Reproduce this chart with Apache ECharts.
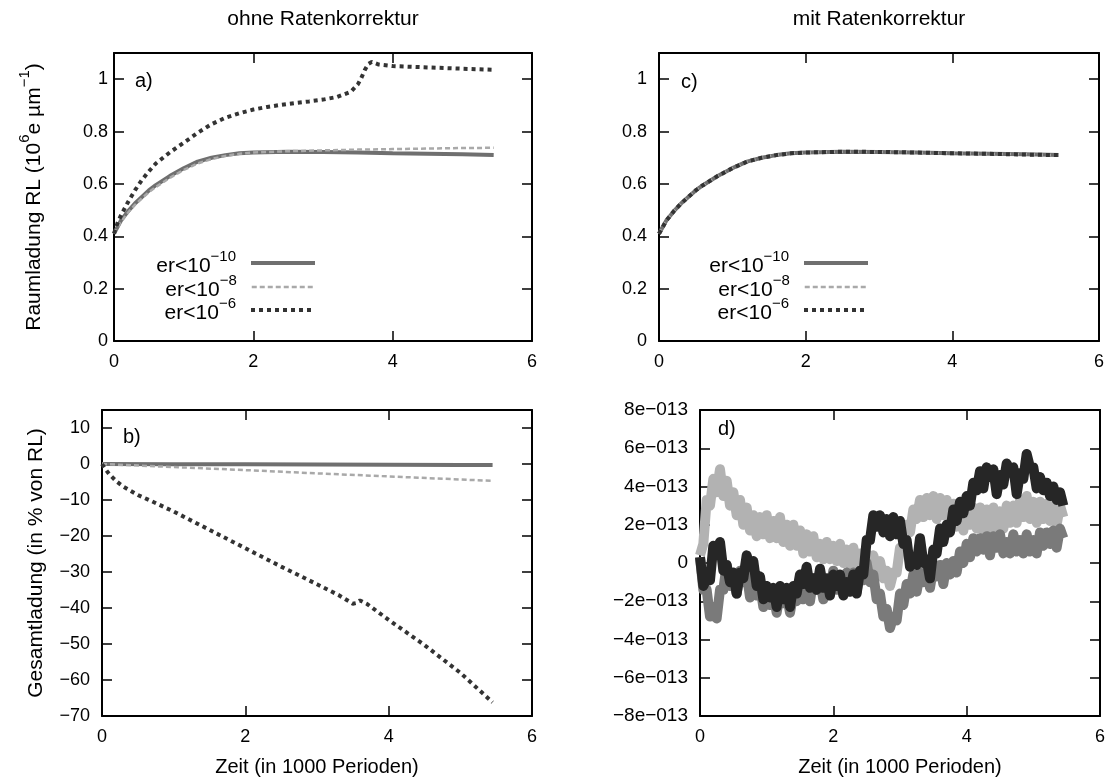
<!DOCTYPE html>
<html>
<head>
<meta charset="utf-8">
<title>Raumladung mit und ohne Ratenkorrektur</title>
<script src="https://cdn.jsdelivr.net/npm/echarts@6/dist/echarts.min.js"></script>
<style>
  html, body { margin: 0; padding: 0; background: #fff; }
  #chart { width: 1109px; height: 784px; }
</style>
</head>
<body>
<div id="chart"></div>
<script>
// ---- data ----
// a) Raumladung ohne Ratenkorrektur, 10^6 e/um
const aTime = [0, 0.1, 0.2, 0.3, 0.4, 0.5, 0.6, 0.8, 1.0, 1.2, 1.4, 1.6, 1.8, 2.0, 2.5, 3.0, 3.5, 4.0, 4.5, 5.0, 5.45];
const aRL10 = [0.41, 0.46, 0.495, 0.525, 0.55, 0.575, 0.595, 0.63, 0.66, 0.685, 0.70, 0.71, 0.717, 0.72, 0.723, 0.722, 0.72, 0.717, 0.715, 0.713, 0.71];
const aRL8 = [0.41, 0.455, 0.49, 0.52, 0.545, 0.568, 0.588, 0.623, 0.653, 0.678, 0.695, 0.707, 0.715, 0.72, 0.725, 0.728, 0.731, 0.733, 0.735, 0.737, 0.738];
const aTime6 = [0, 0.05, 0.1, 0.2, 0.3, 0.4, 0.5, 0.6, 0.8, 1.0, 1.2, 1.4, 1.6, 1.8, 2.0, 2.2, 2.4, 2.6, 2.8, 3.0, 3.2, 3.4, 3.5, 3.55, 3.6, 3.65, 3.7, 3.8, 4.0, 4.5, 5.0, 5.45];
const aRL6 = [0.41, 0.45, 0.48, 0.53, 0.575, 0.615, 0.648, 0.678, 0.72, 0.757, 0.795, 0.828, 0.853, 0.87, 0.884, 0.894, 0.902, 0.909, 0.915, 0.922, 0.932, 0.952, 0.98, 1.005, 1.035, 1.058, 1.066, 1.056, 1.05, 1.045, 1.04, 1.036];

// b) Gesamtladung in % von RL
const bTime = [0, 1, 2, 3, 4, 5, 5.45];
const bQ10 = [0, -0.05, -0.1, -0.15, -0.2, -0.25, -0.3];
const bQ8 = [0, -0.85, -1.7, -2.6, -3.45, -4.3, -4.7];
const bTime6 = [0, 0.05, 0.1, 0.2, 0.3, 0.5, 0.7, 1.0, 1.5, 2.0, 2.5, 3.0, 3.3, 3.5, 3.55, 3.6, 3.7, 4.0, 4.5, 5.0, 5.45];
const bQ6 = [0, -1.5, -2.8, -4.8, -6.3, -8.6, -10.4, -13.2, -18.3, -23.4, -28.5, -33.4, -36.4, -38.8, -38.6, -37.9, -38.9, -43.3, -50.3, -58.0, -66.2];

// c) Raumladung mit Ratenkorrektur
const cTime = [0, 0.1, 0.2, 0.3, 0.4, 0.5, 0.6, 0.8, 1.0, 1.2, 1.4, 1.6, 1.8, 2.0, 2.5, 3.0, 3.5, 4.0, 4.5, 5.0, 5.45];
const cRL10 = [0.41, 0.46, 0.495, 0.525, 0.55, 0.575, 0.595, 0.63, 0.66, 0.685, 0.70, 0.71, 0.717, 0.72, 0.723, 0.722, 0.72, 0.717, 0.715, 0.713, 0.71];
const cRL8 = [0.41, 0.46, 0.495, 0.525, 0.55, 0.575, 0.595, 0.63, 0.66, 0.685, 0.70, 0.71, 0.717, 0.72, 0.723, 0.722, 0.72, 0.717, 0.715, 0.713, 0.71];
const cRL6 = [0.41, 0.46, 0.495, 0.525, 0.55, 0.575, 0.595, 0.63, 0.66, 0.685, 0.70, 0.71, 0.717, 0.72, 0.723, 0.722, 0.72, 0.717, 0.715, 0.712, 0.71];

// d) Gesamtladung mit Ratenkorrektur, in units of 1e-13
const dTime = [
  0, 0.05, 0.1, 0.15, 0.2, 0.25, 0.3, 0.35, 0.4, 0.45,
  0.5, 0.55, 0.6, 0.65, 0.7, 0.75, 0.8, 0.85, 0.9, 0.95,
  1.0, 1.05, 1.1, 1.15, 1.2, 1.25, 1.3, 1.35, 1.4, 1.45,
  1.5, 1.55, 1.6, 1.65, 1.7, 1.75, 1.8, 1.85, 1.9, 1.95,
  2.0, 2.05, 2.1, 2.15, 2.2, 2.25, 2.3, 2.35, 2.4, 2.45,
  2.5, 2.55, 2.6, 2.65, 2.7, 2.75, 2.8, 2.85, 2.9, 2.95,
  3.0, 3.05, 3.1, 3.15, 3.2, 3.25, 3.3, 3.35, 3.4, 3.45,
  3.5, 3.55, 3.6, 3.65, 3.7, 3.75, 3.8, 3.85, 3.9, 3.95,
  4.0, 4.05, 4.1, 4.15, 4.2, 4.25, 4.3, 4.35, 4.4, 4.45,
  4.5, 4.55, 4.6, 4.65, 4.7, 4.75, 4.8, 4.85, 4.9, 4.95,
  5.0, 5.05, 5.1, 5.15, 5.2, 5.25, 5.3, 5.35, 5.4, 5.45
];
const dLight = [
  0.4, 1.0, 3.3, 3.0, 4.4, 3.7, 4.9, 3.5, 4.3, 3.0,
  3.7, 2.5, 3.3, 2.0, 2.9, 1.7, 2.5, 1.4, 2.4, 1.5,
  2.5, 1.3, 2.2, 1.3, 2.4, 1.1, 2.0, 0.9, 2.0, 0.9,
  1.7, 0.5, 1.5, 0.6, 1.4, 0.3, 1.0, 0.2, 1.1, 0.2,
  0.9, 0.1, 1.0, 0.0, 0.7, -0.1, 0.8, -0.2, 0.5, -0.4,
  0.5, -0.4, 0.4, -0.3, 0.1, -0.8, -0.4, -1.2, -0.5, -0.5,
  0.8, 0.7, 2.0, 1.6, 2.8, 2.3, 3.3, 2.4, 3.4, 2.5,
  3.5, 2.3, 3.4, 2.5, 3.3, 2.1, 3.1, 1.9, 2.8, 1.7,
  2.9, 2.0, 2.9, 1.8, 2.9, 1.7, 2.8, 1.7, 2.9, 1.8,
  2.7, 1.8, 3.0, 2.1, 3.0, 2.1, 3.3, 2.4, 3.5, 2.3,
  3.2, 2.1, 3.2, 2.3, 3.1, 2.2, 3.1, 2.0, 3.0, 2.4
];
const dMid = [
  0.3, -1.4, -1.4, -2.8, -2.3, -2.9, -1.4, -1.4, -0.1, -1.2,
  -0.9, -1.6, -0.4, -1.0, -0.5, -1.8, -1.2, -1.7, -1.1, -2.3,
  -1.7, -2.2, -1.6, -2.6, -1.5, -2.1, -1.6, -2.6, -1.6, -2.0,
  -0.9, -1.9, -1.4, -2.0, -0.8, -1.4, -0.9, -1.9, -0.9, -1.4,
  -0.4, -1.4, -0.9, -1.6, -0.5, -1.1, -0.5, -1.5, -0.4, -0.9,
  0.0, -1.0, -0.6, -1.9, -1.6, -2.8, -2.4, -3.4, -2.8, -3.0,
  -1.6, -2.2, -1.1, -1.6, -0.6, -1.5, -0.5, -1.0, -0.4, -1.3,
  -0.2, -0.7, -0.1, -1.1, 0.0, -0.6, 0.1, -0.5, 0.6, 0.0,
  1.0, 0.3, 1.3, 0.6, 1.3, 0.7, 1.4, 0.4, 1.4, 0.8,
  1.5, 0.5, 1.1, 0.5, 1.5, 0.6, 1.2, 0.5, 1.5, 0.6,
  1.2, 0.5, 1.6, 0.9, 1.6, 1.0, 1.7, 0.8, 1.8, 1.3
];
const dDark = [
  0.3, -1.2, -0.8, -0.9, 0.9, 0.6, 1.1, -0.4, -0.1, -1.0,
  -0.5, -1.6, -0.5, -0.8, 0.4, -0.2, 0.1, -1.2, -0.7, -1.9,
  -1.2, -1.8, -1.3, -2.3, -1.2, -1.9, -1.3, -2.3, -1.2, -1.6,
  -0.6, -1.1, -0.2, -1.3, -0.8, -1.4, -0.3, -1.3, -0.8, -1.7,
  -0.6, -1.2, -0.6, -1.7, -1.0, -1.5, -0.6, -1.6, -0.4, -0.6,
  1.2, 1.2, 2.5, 1.9, 2.5, 1.6, 2.3, 1.4, 2.4, 1.5,
  2.2, 1.0, 1.2, -0.2, 0.1, -0.1, 1.3, 0.0, 0.2, -0.8,
  0.7, 0.5, 1.8, 1.1, 2.0, 1.6, 2.8, 2.2, 3.2, 2.6,
  3.5, 3.0, 4.2, 3.8, 4.8, 3.9, 5.0, 4.5, 4.9, 3.6,
  4.6, 4.1, 5.2, 4.8, 5.0, 3.6, 4.7, 4.4, 5.7, 5.0,
  5.0, 3.9, 4.5, 3.8, 4.2, 3.5, 4.0, 3.3, 3.7, 3.0
];

const legendSup = { 'er<10^-10': '−10', 'er<10^-8': '−8', 'er<10^-6': '−6' };

// ---- styles ----
const FONT = '"Liberation Sans", Arial, Helvetica, sans-serif';
const styles = {
  'er<10^-10': { color: '#6f6f6f', width: 4, type: 'solid' },
  'er<10^-8': { color: '#a9a9a9', width: 2.5, type: [5, 3] },
  'er<10^-6': { color: '#333333', width: 4, type: [4, 4] }
};
const grids = [
  { left: 114, top: 53, width: 418, height: 288 },
  { left: 102, top: 410, width: 430, height: 306 },
  { left: 659, top: 53, width: 440, height: 288 },
  { left: 700, top: 410, width: 400, height: 306 }
];

const legendRich = {
  t: { fontFamily: FONT, fontSize: 21, color: '#000', lineHeight: 28, verticalAlign: 'bottom' },
  s: { fontFamily: FONT, fontSize: 15, color: '#000', lineHeight: 14, verticalAlign: 'top' }
};
const nameRich = {
  t: { fontFamily: FONT, fontSize: 21, color: '#000', lineHeight: 28, verticalAlign: 'bottom' },
  s: { fontFamily: FONT, fontSize: 15, color: '#000', lineHeight: 14, verticalAlign: 'top' }
};

function pairs(xs, ys) {
  return xs.map((x, i) => [x, ys[i]]);
}

const axisLineStyle = { show: true, onZero: false, lineStyle: { color: '#000', width: 2 } };
const tickStyle = { show: true, inside: true, length: 10, lineStyle: { color: '#000', width: 1.5 } };
const labelStyle = { color: '#000', fontFamily: FONT, fontSize: 18 };

function minusSign(v) {
  return String(v).replace('-', '−');
}

function xAxesFor(grid, name) {
  const base = { type: 'value', gridIndex: grid, min: 0, max: 6, interval: 2,
    axisLine: axisLineStyle, axisTick: tickStyle, splitLine: { show: false } };
  const bottom = Object.assign({}, base, {
    position: 'bottom',
    axisLabel: Object.assign({}, labelStyle, { margin: 12 })
  });
  if (name) {
    Object.assign(bottom, {
      name: name, nameLocation: 'middle', nameGap: 41,
      nameTextStyle: { color: '#000', fontFamily: FONT, fontSize: 20 }
    });
  }
  const top = Object.assign({}, base, { position: 'top', axisLabel: { show: false } });
  return [bottom, top];
}

function yAxesFor(grid, min, max, interval, label, name, nameGap) {
  const base = { type: 'value', gridIndex: grid, min: min, max: max, interval: interval,
    axisLine: axisLineStyle, axisTick: tickStyle, splitLine: { show: false } };
  const left = Object.assign({}, base, {
    position: 'left',
    axisLabel: Object.assign({}, labelStyle, label)
  });
  if (name) {
    Object.assign(left, {
      name: name, nameLocation: 'middle', nameGap: nameGap,
      nameTextStyle: { rich: nameRich }
    });
  }
  const right = Object.assign({}, base, { position: 'right', axisLabel: { show: false } });
  return [left, right];
}

function lineSeries(name, grid, xs, ys) {
  const s = styles[name];
  return {
    name: name, type: 'line', xAxisIndex: grid * 2, yAxisIndex: grid * 2,
    data: pairs(xs, ys), symbol: 'none', silent: true,
    lineStyle: { color: s.color, width: s.width, type: s.type },
    itemStyle: { color: s.color }
  };
}

function bandSeries(name, xs, ys, color) {
  return {
    name: name, type: 'line', xAxisIndex: 6, yAxisIndex: 6,
    data: pairs(xs, ys), symbol: 'none', silent: true,
    lineStyle: { color: color, width: 10, join: 'round' }
  };
}

// legend rows: text right-aligned, line sample to the right (gnuplot key)
function legendRow(name, right, top) {
  const s = styles[name];
  return {
    data: [name], right: right, top: top, orient: 'horizontal', align: 'right',
    itemWidth: 64, itemHeight: 4, padding: 0, selectedMode: false,
    itemStyle: { opacity: 0 },
    lineStyle: { color: s.color, width: s.width, type: s.type },
    formatter: n => '{t|er<10}{s|' + legendSup[n] + '}',
    textStyle: { rich: legendRich, padding: [0, 10, 0, 0] }
  };
}

const rlFormatter = v => String(Math.round(v * 10) / 10);
const dFormatter = v => {
  if (Math.abs(v) < 1e-9) return '0';
  return (v < 0 ? '−' : '') + Math.abs(Math.round(v)) + 'e−013';
};

const rlName = '{t|Raumladung RL (10}{s|6}{t|e µm}{s|−1}{t|)}';
const qName = '{t|Gesamtladung (in % von RL)}';

const option = {
  animation: false,
  backgroundColor: '#fff',
  grid: grids,
  xAxis: [].concat(
    xAxesFor(0), xAxesFor(1, 'Zeit (in 1000 Perioden)'),
    xAxesFor(2), xAxesFor(3, 'Zeit (in 1000 Perioden)')
  ),
  yAxis: [].concat(
    yAxesFor(0, 0, 1.1, 0.2, { margin: 6, showMaxLabel: false, formatter: rlFormatter }, rlName, 69),
    yAxesFor(1, -70, 15, 10, { margin: 12, showMaxLabel: false, formatter: minusSign }, qName, 55),
    yAxesFor(2, 0, 1.1, 0.2, { margin: 12, showMaxLabel: false, formatter: rlFormatter }),
    yAxesFor(3, -8, 8, 2, { margin: 12, fontSize: 19, formatter: dFormatter })
  ),
  legend: [
    legendRow('er<10^-10', 792, 249),
    legendRow('er<10^-8', 792, 273),
    legendRow('er<10^-6', 792, 296),
    legendRow('er<10^-10', 239, 249),
    legendRow('er<10^-8', 239, 273),
    legendRow('er<10^-6', 239, 296)
  ],
  series: [
    lineSeries('er<10^-10', 0, aTime, aRL10),
    lineSeries('er<10^-8', 0, aTime, aRL8),
    lineSeries('er<10^-6', 0, aTime6, aRL6),
    lineSeries('er<10^-10', 1, bTime, bQ10),
    lineSeries('er<10^-8', 1, bTime, bQ8),
    lineSeries('er<10^-6', 1, bTime6, bQ6),
    lineSeries('er<10^-10', 2, cTime, cRL10),
    lineSeries('er<10^-8', 2, cTime, cRL8),
    lineSeries('er<10^-6', 2, cTime, cRL6),
    bandSeries('d hell', dTime, dLight, '#b2b2b2'),
    bandSeries('d mittel', dTime, dMid, '#7a7a7a'),
    bandSeries('d dunkel', dTime, dDark, '#262626')
  ],
  graphic: [
    { type: 'text', x: 323, y: 19, style: { text: 'ohne Ratenkorrektur', font: '21px ' + FONT, fill: '#000', align: 'center', verticalAlign: 'middle' } },
    { type: 'text', x: 879, y: 19, style: { text: 'mit Ratenkorrektur', font: '21px ' + FONT, fill: '#000', align: 'center', verticalAlign: 'middle' } },
    { type: 'text', x: 135, y: 81, style: { text: 'a)', font: '20px ' + FONT, fill: '#000', verticalAlign: 'middle' } },
    { type: 'text', x: 123, y: 437, style: { text: 'b)', font: '20px ' + FONT, fill: '#000', verticalAlign: 'middle' } },
    { type: 'text', x: 681, y: 82, style: { text: 'c)', font: '20px ' + FONT, fill: '#000', verticalAlign: 'middle' } },
    { type: 'text', x: 718, y: 429, style: { text: 'd)', font: '20px ' + FONT, fill: '#000', verticalAlign: 'middle' } }
  ]
};

const chart = echarts.init(document.getElementById('chart'), null, { renderer: 'canvas' });
chart.setOption(option);
</script>
</body>
</html>
